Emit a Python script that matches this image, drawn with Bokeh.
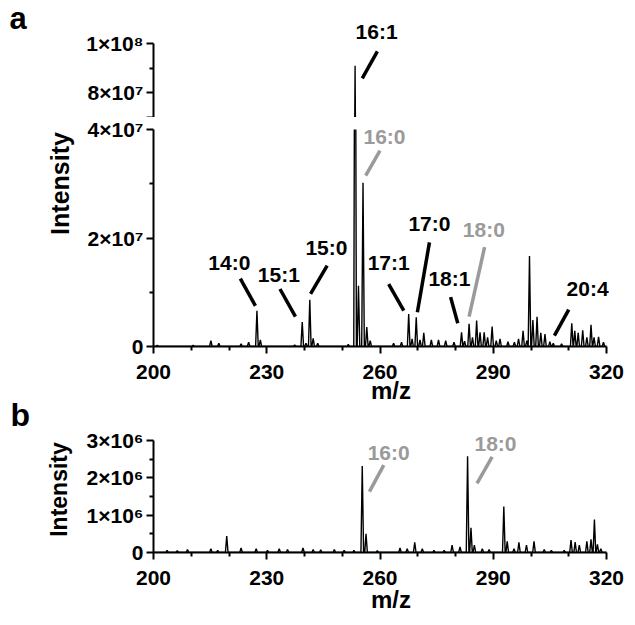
import math
from bokeh.plotting import figure
from bokeh.layouts import column, row
from bokeh.models import Range1d, FixedTicker, Label
from bokeh.embed import file_html
from bokeh.resources import INLINE

# ---------------- data ----------------
# panel a: peak m/z and intensity
a_mz = [201.0, 210.5, 215.2, 217.3, 223.2, 225.2, 227.4, 228.3, 237.4, 239.4, 240.4,
        241.4, 242.3, 243.5, 251.6, 253.4, 254.3, 255.5, 256.5, 257.4, 263.6, 265.7,
        267.6, 268.5, 269.6, 270.6, 271.6, 273.6, 275.5, 277.4, 279.6, 281.6, 282.4,
        283.6, 284.5, 285.6, 286.5, 287.6, 288.5, 289.7, 290.8, 291.8, 293.9, 295.6,
        296.7, 297.9, 298.9, 299.6, 300.5, 301.6, 302.6, 303.7, 305.0, 305.9, 308.1,
        310.8, 311.6, 312.5, 313.7, 314.8, 315.9, 316.7, 317.9, 319.2]
a_int = [0.2e6, 0.2e6, 1.1e6, 0.6e6, 0.5e6, 0.8e6, 6.6e6, 1.2e6, 0.3e6, 4.5e6, 0.6e6,
         8.6e6, 1.5e6, 0.6e6, 0.4e6, 9.1e7, 1.12e7, 3.02e7, 3.6e6, 1.1e6, 0.6e6, 0.8e6,
         6.0e6, 1.4e6, 5.4e6, 1.2e6, 2.5e6, 1.2e6, 1.2e6, 1.1e6, 0.8e6, 2.6e6, 1.0e6,
         4.2e6, 1.7e6, 4.8e6, 2.6e6, 2.6e6, 1.7e6, 3.7e6, 1.1e6, 1.4e6, 0.9e6, 0.8e6,
         1.4e6, 2.9e6, 1.1e6, 1.67e7, 4.9e6, 5.5e6, 2.5e6, 2.3e6, 0.9e6, 0.6e6, 0.5e6,
         4.3e6, 2.9e6, 2.5e6, 3.0e6, 1.7e6, 4.0e6, 1.7e6, 1.8e6, 0.8e6]

# panel b: peak m/z and intensity
b_mz = [203.6, 206.3, 209.0, 215.2, 217.0, 219.4, 223.2, 227.2, 230.2, 233.3, 235.5,
        239.6, 242.3, 244.3, 247.9, 250.5, 253.1, 255.3, 256.3, 259.3, 265.3, 267.2,
        269.2, 271.2, 274.3, 277.0, 279.1, 281.2, 283.2, 284.1, 285.0, 287.1, 288.9,
        292.8, 293.7, 295.5, 296.8, 298.8, 300.8, 303.5, 305.4, 308.8, 310.6, 311.7,
        312.8, 314.8, 315.9, 316.8, 317.6, 318.5]
b_int = [0.06e6, 0.05e6, 0.08e6, 0.1e6, 0.06e6, 0.44e6, 0.12e6, 0.1e6, 0.06e6, 0.1e6, 0.08e6,
         0.12e6, 0.08e6, 0.07e6, 0.08e6, 0.06e6, 0.06e6, 2.32e6, 0.5e6, 0.05e6, 0.12e6, 0.1e6,
         0.27e6, 0.1e6, 0.06e6, 0.06e6, 0.2e6, 0.15e6, 2.58e6, 0.66e6, 0.2e6, 0.1e6, 0.08e6,
         1.23e6, 0.3e6, 0.1e6, 0.27e6, 0.2e6, 0.3e6, 0.08e6, 0.06e6, 0.06e6, 0.33e6, 0.28e6,
         0.2e6, 0.3e6, 0.35e6, 0.88e6, 0.22e6, 0.1e6]

x_ticks = [200, 230, 260, 290, 320]
x_minor = [210, 220, 240, 250, 270, 280, 300, 310]

a_low_ticks = [0, 20000000, 40000000]
a_low_minor = [10000000, 30000000]
a_low_labels = {0: "0", 20000000: "2×10⁷", 40000000: "4×10⁷"}
a_up_ticks = [70000000, 80000000, 100000000]
a_up_minor = [90000000]
a_up_labels = {70000000: "", 80000000: "8×10⁷", 100000000: "1×10⁸"}
b_ticks = [0, 1000000, 2000000, 3000000]
b_minor = [500000, 1500000, 2500000]
b_labels = {0: "0", 1000000: "1×10⁶", 2000000: "2×10⁶", 3000000: "3×10⁶"}

# peak annotations: text, text position, leader line, colour group
a_ann = [
    ("14:0", 220.1, 1.55e7, 223.0, 1.25e7, 227.0, 0.75e7, "k"),
    ("15:1", 233.2, 1.32e7, 233.5, 1.06e7, 237.6, 0.55e7, "k"),
    ("15:0", 245.8, 1.83e7, 246.0, 1.49e7, 241.6, 0.97e7, "k"),
    ("16:0", 261.2, 3.88e7, 260.0, 3.61e7, 256.2, 3.15e7, "g"),
    ("17:1", 262.3, 1.55e7, 262.3, 1.15e7, 266.3, 0.66e7, "k"),
    ("17:0", 273.1, 2.26e7, 273.1, 1.92e7, 269.9, 0.63e7, "k"),
    ("18:1", 278.4, 1.25e7, 278.7, 0.91e7, 280.6, 0.43e7, "k"),
    ("18:0", 287.5, 2.15e7, 287.7, 1.83e7, 283.6, 0.55e7, "g"),
    ("20:4", 315.0, 1.06e7, 310.0, 0.68e7, 306.2, 0.20e7, "k"),
]
a_up_ann = [
    ("16:1", 259.1, 1.05e8, 259.3, 9.68e7, 255.3, 8.59e7, "k"),
]
b_ann = [
    ("16:0", 262.3, 2.69e6, 261.0, 2.34e6, 257.2, 1.63e6, "g"),
    ("18:0", 290.6, 2.91e6, 289.7, 2.56e6, 285.7, 1.85e6, "g"),
]

# ---------------- styling / layout ----------------
FONT = "Liberation Sans"
COLORS = {"k": "#000000", "g": "#9a9a9a"}
PEAK_HW = 0.35
SIDE_W = 78
MAIN_W = 628 - SIDE_W
LEFT = 153 - SIDE_W   # frame starts at x = 153
PX_PER_MZ = 453 / 120
X_END = 200 + (MAIN_W - LEFT) / PX_PER_MZ
TOTAL_H = 622


def profile(mz, inten):
    xs, ys = [200.0], [0.0]
    for m, h in zip(mz, inten):
        xs += [m - PEAK_HW, m, m + PEAK_HW]
        ys += [0.0, h, 0.0]
    xs.append(320.0)
    ys.append(0.0)
    return xs, ys


def make_fig(height, yr, top, bottom, with_x):
    p = figure(width=MAIN_W, height=height, x_range=Range1d(200, X_END), y_range=yr,
               output_backend="svg", toolbar_location=None,
               x_axis_location="below" if with_x else None,
               min_border_left=LEFT, min_border_right=0,
               min_border_top=top, min_border_bottom=bottom)
    p.outline_line_color = None
    p.grid.visible = False
    p.background_fill_color = "white"
    p.border_fill_color = "white"
    axes = list(p.yaxis) + (list(p.xaxis) if with_x else [])
    for ax in axes:
        ax.axis_line_width = 2
        ax.major_tick_line_width = 2
        ax.minor_tick_line_width = 2
        ax.major_tick_out = 7
        ax.major_tick_in = 0
        ax.minor_tick_out = 4
        ax.minor_tick_in = 0
        ax.major_label_text_font = FONT
        ax.major_label_text_font_style = "bold"
        ax.major_label_text_font_size = "21px"
        ax.major_label_text_color = "black"
        ax.axis_line_color = "black"
        ax.major_tick_line_color = "black"
        ax.minor_tick_line_color = "black"
    p.yaxis[0].major_label_standoff = 3
    if with_x:
        xa = p.xaxis[0]
        xa.ticker = FixedTicker(ticks=x_ticks, minor_ticks=x_minor)
        xa.bounds = (200, 320)
        xa.major_label_standoff = 11
        xa.axis_label = "m/z"
        xa.axis_label_text_font = FONT
        xa.axis_label_text_font_style = "bold"
        xa.axis_label_text_font_size = "24px"
        xa.axis_label_text_color = "black"
    return p


def add_label(p, txt, x, y, size, color="black", angle=0.0, align="center", baseline="middle"):
    p.add_layout(Label(x=x, y=y, text=txt, text_font=FONT, text_font_style="bold",
                       text_font_size=size, text_color=color, text_align=align,
                       text_baseline=baseline, angle=angle))


def add_ann(p, ann):
    for txt, tx, ty, x0, y0, x1, y1, c in ann:
        add_label(p, txt, tx, ty, "21px", COLORS[c])
        p.segment(x0=[x0], y0=[y0], x1=[x1], y1=[y1], line_color=COLORS[c], line_width=3.5)


ax_x, ax_y = profile(a_mz, a_int)
bx_x, bx_y = profile(b_mz, b_int)

# panel a, upper part of broken axis
f1 = make_fig(117, Range1d(7e7, 1e8 + 33 * 3e7 / 74), 10, 0, False)
f1.yaxis[0].ticker = FixedTicker(ticks=a_up_ticks, minor_ticks=a_up_minor)
f1.yaxis[0].major_label_overrides = a_up_labels
f1.yaxis[0].bounds = (7e7, 1e8)
f1.line(ax_x, ax_y, line_color="black", line_width=1.4)
add_ann(f1, a_up_ann)

# panel a, lower part
f2 = make_fig(291, Range1d(0, 4e7), 12, 62, True)
f2.yaxis[0].ticker = FixedTicker(ticks=a_low_ticks, minor_ticks=a_low_minor)
f2.yaxis[0].major_label_overrides = a_low_labels
f2.xaxis[0].axis_label_standoff = -5
f2.line(ax_x, ax_y, line_color="black", line_width=1.4)
add_ann(f2, a_ann)

# panel b
f3 = make_fig(214, Range1d(0, 3e6 + 32 * 3e6 / 112), 0, 70, True)
f3.yaxis[0].ticker = FixedTicker(ticks=b_ticks, minor_ticks=b_minor)
f3.yaxis[0].major_label_overrides = b_labels
f3.yaxis[0].bounds = (0, 3e6)
f3.xaxis[0].axis_label_standoff = -2
f3.line(bx_x, bx_y, line_color="black", line_width=1.4)
add_ann(f3, b_ann)

# left strip holding panel letters and y-axis titles
side = figure(width=SIDE_W, height=TOTAL_H, x_range=Range1d(0, SIDE_W), y_range=Range1d(0, TOTAL_H),
              output_backend="svg", toolbar_location=None, x_axis_location=None,
              y_axis_location=None, min_border=0)
side.outline_line_color = None
side.grid.visible = False
side.background_fill_color = "white"
side.border_fill_color = "white"
add_label(side, "a", 9, TOTAL_H - 18, "31px", align="left", baseline="alphabetic")
add_label(side, "b", 10, TOTAL_H - 414, "32px", align="left", baseline="alphabetic")
add_label(side, "Intensity", 59, TOTAL_H - 183, "25px", angle=math.pi / 2)
add_label(side, "Intensity", 58, TOTAL_H - 489, "23px", angle=math.pi / 2)

layout = row(side, column(f1, f2, f3))
open("out.html", "w").write(file_html(layout, INLINE))
